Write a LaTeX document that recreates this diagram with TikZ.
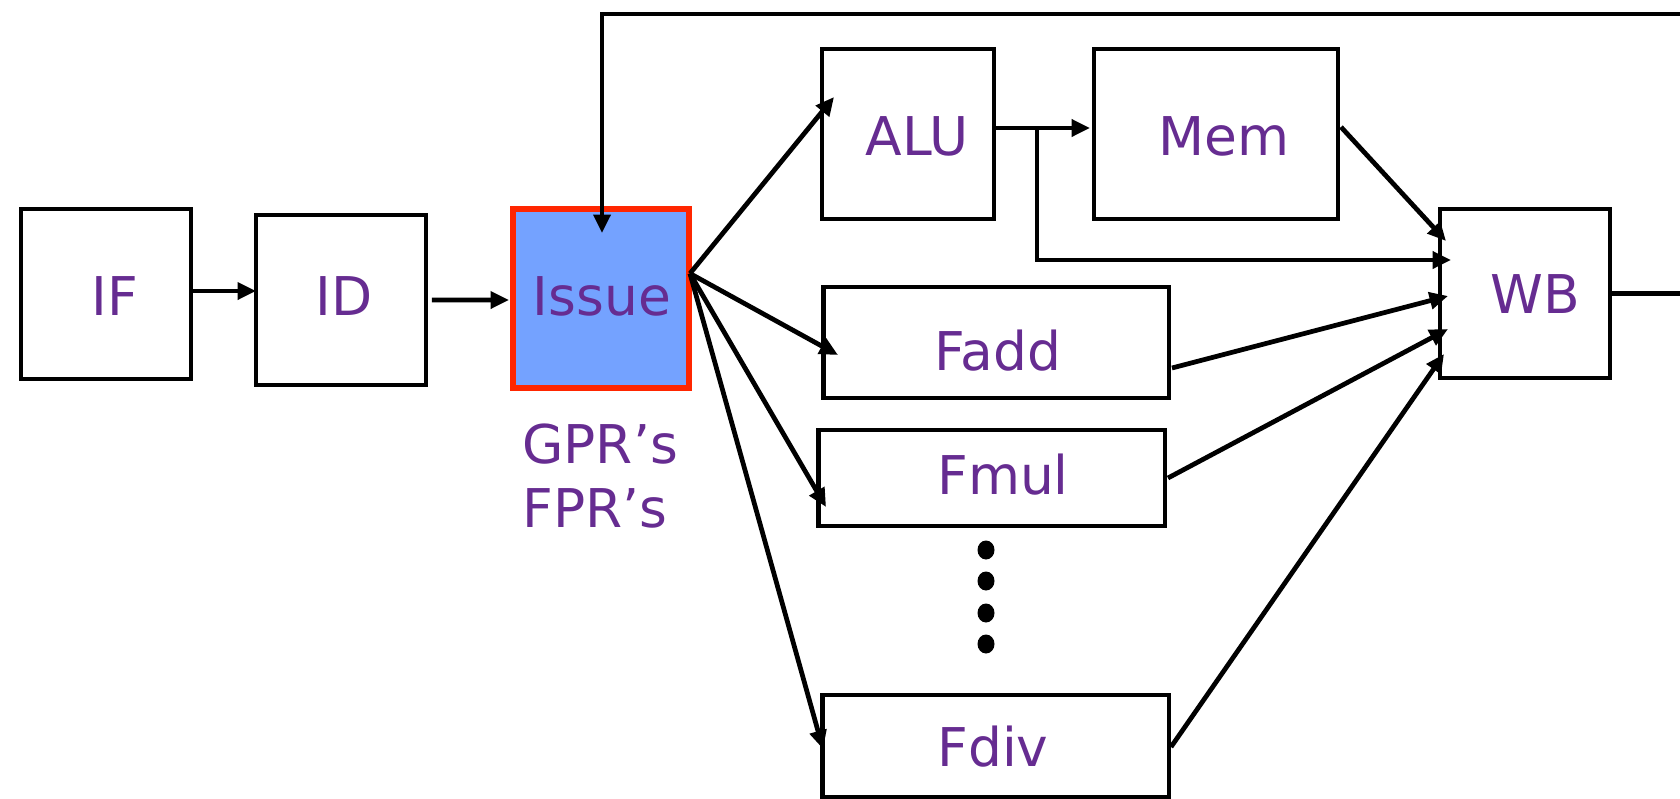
\documentclass[tikz,border=0pt]{standalone}
\usepackage{fontspec}
\setmainfont{DejaVu Sans}
\usetikzlibrary{calc,arrows.meta,shapes.geometric}

\definecolor{txtpurple}{RGB}{102,44,145}
\definecolor{issueblue}{RGB}{116,162,255}
\definecolor{issuered}{RGB}{255,38,0}

\begin{document}
\begin{tikzpicture}[x=0.02cm,y=-0.02cm,
  stage/.style={draw=black,line width=2.8pt,fill=white,inner sep=0pt,outer sep=0pt},
  lbl/.style={anchor=base,inner sep=0pt,text=txtpurple,font=\fontsize{30.4}{36}\selectfont},
  wire/.style={line width=2.7pt,line join=miter},
  arr/.style={wire,-{Triangle[length=10.5pt,width=9.5pt]}},
  dot/.style={ellipse,fill=black,inner sep=0pt,minimum width=0.34cm,minimum height=0.38cm}]
\useasboundingbox (0,0) rectangle (1680,798);

% pipeline stages
\node[stage,minimum width=3.4cm,minimum height=3.4cm] (IF) at (106,294) {};
\node[stage,minimum width=3.4cm,minimum height=3.4cm] (ID) at (341,300) {};
\node[stage,draw=issuered,fill=issueblue,minimum width=3.52cm,minimum height=3.58cm,line width=3pt] (Issue) at (601,298.5) {};
\node[stage,minimum width=3.44cm,minimum height=3.4cm] (ALU) at (908,134) {};
\node[stage,minimum width=4.88cm,minimum height=3.4cm] (Mem) at (1216,134) {};
\node[stage,minimum width=3.4cm,minimum height=3.38cm] (WB) at (1525,293.5) {};
\node[stage,minimum width=6.92cm,minimum height=2.22cm] (Fadd) at (996,342.5) {};
\node[stage,minimum width=6.94cm,minimum height=1.92cm] (Fmul) at (991.5,478) {};
\node[stage,minimum width=6.94cm,minimum height=2.04cm] (Fdiv) at (995.5,746) {};

% stage names
\node[lbl] (IFt) at (115,315) {IF};
\node[lbl] (IDt) at (344,315) {ID};
\node[lbl] (Issuet) at (602,315) {Issue};
\node[lbl] (ALUt) at (917,155) {ALU};
\node[lbl] (Memt) at (1224,155) {Mem};
\node[lbl] (WBt) at (1535,313) {WB};
\node[lbl] (Faddt) at (998,370) {Fadd};
\node[lbl] (Fmult) at (1003,494) {Fmul};
\node[lbl] (Fdivt) at (993,766) {Fdiv};
\node[lbl,anchor=base west] (gpr) at (522,463) {GPR’s};
\node[lbl,anchor=base west] (fpr) at (522,527) {FPR’s};

% more functional units
\node[dot] (d1) at (986,550) {};
\node[dot] (d2) at (986,581) {};
\node[dot] (d3) at (986,613) {};
\node[dot] (d4) at (986,644) {};

% front end
\draw[arr] ($(IF.east)+(0,-3)$) -- ($(ID.west)+(0,-9)$);
\draw[arr] ($(ID.east)+(6,0)$) -- ($(Issue.west)+(-4,1.5)$);

% issue fan-out
\coordinate (fan) at ($(Issue.east)+(1,-25)$);
\draw[arr] (fan) -- ($(ALU.west)+(12,-37)$);
\draw[arr] (fan) -- ($(Fadd.west)+(15,12.5)$);
\draw[arr] (fan) -- ($(Fmul.west)+(8,29)$);
\draw[arr] (fan) -- ($(Fdiv.west)+(1,3)$);

% ALU to memory, with bypass to write-back
\draw[arr] ($(ALU.east)+(0,-6)$) -- ($(Mem.west)+(-4,-6)$);
\coordinate (br) at ($(ALU.east)+(43,-6)$);
\draw[arr] (br) |- ($(WB.west)+(11,-33.5)$);

% results into write-back
\draw[arr] ($(Mem.east)+(3,-7)$) -- ($(WB.west)+(6,-52.5)$);
\draw[arr] ($(Fadd.east)+(3,25.5)$) -- ($(WB.west)+(8,2.5)$);
\draw[arr] ($(Fmul.east)+(3,0)$) -- ($(WB.west)+(8,35.5)$);
\draw[arr] ($(Fdiv.east)+(2,1)$) -- ($(WB.west)+(4,60.5)$);

% write-back output and feedback into issue
\coordinate (out) at (1700,293.5);
\draw[wire] (WB.east) -- (out);
\coordinate (ret) at (1700,14);
\draw[arr] (ret) -- (602,14) -- ($(Issue.north)+(1,24)$);
\end{tikzpicture}
\end{document}
